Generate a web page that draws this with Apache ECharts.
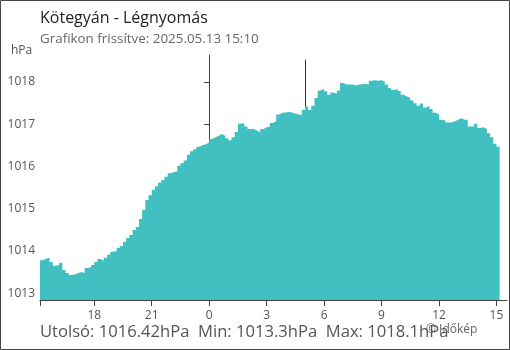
<!DOCTYPE html>
<html>
<head>
<meta charset="utf-8">
<script src="https://cdn.jsdelivr.net/npm/echarts@6/dist/echarts.min.js"></script>
<style>
html,body{margin:0;padding:0;background:#fff;}
#chart{width:510px;height:350px;}
</style>
</head>
<body>
<div id="chart"></div>
<script>
// time in hours relative to midnight, first reading 15:10 the day before
var startHour = -8 - 50/60;
var stepMinutes = 10;

var pressure = [
	1013.78, 1013.82, 1013.84, 1013.74, 1013.65, 1013.67, 1013.72, 1013.55, 1013.48, 1013.43,
	1013.45, 1013.48, 1013.50, 1013.48, 1013.60, 1013.62, 1013.67, 1013.74, 1013.81, 1013.77,
	1013.84, 1013.91, 1013.98, 1014.00, 1014.07, 1014.12, 1014.22, 1014.31, 1014.38, 1014.50,
	1014.57, 1014.76, 1014.97, 1015.21, 1015.32, 1015.45, 1015.53, 1015.62, 1015.68, 1015.76,
	1015.84, 1015.87, 1015.88, 1016.02, 1016.08, 1016.14, 1016.28, 1016.36, 1016.41, 1016.47,
	1016.51, 1016.53, 1016.57, 1016.65, 1016.69, 1016.73, 1016.77, 1016.73, 1016.67, 1016.62,
	1016.69, 1016.82, 1017.01, 1017.03, 1016.95, 1016.89, 1016.89, 1016.85, 1016.81, 1016.89,
	1016.93, 1016.95, 1017.03, 1017.07, 1017.23, 1017.27, 1017.28, 1017.29, 1017.28, 1017.25,
	1017.24, 1017.22, 1017.34, 1017.42, 1017.34, 1017.44, 1017.62, 1017.80, 1017.84, 1017.78,
	1017.70, 1017.75, 1017.72, 1017.80, 1017.98, 1017.94, 1017.94, 1017.94, 1017.92, 1017.94,
	1017.95, 1017.96, 1017.94, 1018.03, 1018.04, 1018.03, 1018.04, 1018.01, 1017.94, 1017.86,
	1017.81, 1017.84, 1017.79, 1017.70, 1017.66, 1017.62, 1017.56, 1017.50, 1017.44, 1017.49,
	1017.40, 1017.44, 1017.36, 1017.27, 1017.23, 1017.11, 1017.09, 1017.04, 1017.04, 1017.07,
	1017.11, 1017.15, 1017.11, 1017.11, 1016.95, 1016.95, 1017.01, 1016.91, 1016.93, 1016.89,
	1016.79, 1016.69, 1016.54, 1016.47, 1016.42
];

var xTicks = [-6, -3, 0, 3, 6, 9, 12, 15];
var yTicks = [1013, 1014, 1015, 1016, 1017, 1018];
var markHours = [0, 5];
var markColors = ['#4a90c8', '#333333'];

var title = 'Kötegyán - Légnyomás';
var subtitle = 'Grafikon frissítve: 2025.05.13 15:10';
var footer = 'Utolsó: 1016.42hPa  Min: 1013.3hPa  Max: 1018.1hPa';

var xMin = startHour, xMax = 15.55;
var yMin = 1012.84, yMax = 1018.64;

var data = pressure.map(function (v, i) {
	return [startHour + i * stepMinutes / 60, v];
});

var marks = markHours.map(function (h, i) {
	return [
		{coord: [h, 1018.53], lineStyle: {color: markColors[i], width: 1, type: 'solid'}},
		{coord: [h, i === 0 ? 1012.70 : yMin]}
	];
});

var chart = echarts.init(document.getElementById('chart'));

var option = {
	animation: false,
	textStyle: {fontFamily: 'Open Sans'},
	grid: {left: 40, right: 3, top: 55, bottom: 50},
	xAxis: {
		type: 'value',
		min: xMin,
		max: xMax,
		splitLine: {show: false},
		axisLine: {lineStyle: {color: '#444'}},
		axisTick: {
			length: 6,
			lineStyle: {color: '#444'},
			customValues: [xMin].concat(xTicks)
		},
		axisLabel: {
			customValues: xTicks,
			margin: 10,
			fontSize: 12,
			color: '#555',
			formatter: function (v) { return String(((Math.round(v) % 24) + 24) % 24); }
		}
	},
	yAxis: {
		type: 'value',
		min: yMin,
		max: yMax,
		splitLine: {show: false},
		axisLine: {show: true, lineStyle: {color: '#444'}},
		axisTick: {show: true, length: 5, lineStyle: {color: '#444'}, customValues: yTicks},
		axisLabel: {
			customValues: yTicks, margin: 5, fontSize: 12, color: '#555',
			formatter: function (v) { return String(Math.round(v)); }
		}
	},
	series: [
		{
			type: 'line',
			z: 1,
			data: [],
			markLine: {
				z: 1,
				silent: true,
				symbol: 'none',
				animation: false,
				label: {show: false},
				data: marks
			}
		},
		{
			type: 'line',
			z: 2,
			step: 'end',
			symbol: 'none',
			data: data,
			lineStyle: {width: 0},
			areaStyle: {color: '#40c0c0', opacity: 1, origin: 'start'}
		}
	],
	graphic: [
		{type: 'rect', silent: true, shape: {x: 0.5, y: 0.5, width: 509, height: 349},
			style: {fill: 'none', stroke: '#444', lineWidth: 1}},
		{type: 'text', left: 40, top: 10,
			style: {text: title, font: '16px "Open Sans"', fill: '#222'}},
		{type: 'text', left: 40, top: 33,
			style: {text: subtitle, font: '13.4px "Open Sans"', fill: '#666'}},
		{type: 'text', left: 11, top: 45,
			style: {text: 'hPa', font: '12px "Open Sans"', fill: '#555'}},
		{type: 'text', left: 40, top: 324,
			style: {text: footer, font: '16.6px "Open Sans"', fill: '#555'}},
		{type: 'text', left: 426, top: 324,
			style: {text: '© Időkép', font: '12px "Open Sans"', fill: '#666'}}
	]
};

chart.setOption(option);
</script>
</body>
</html>
